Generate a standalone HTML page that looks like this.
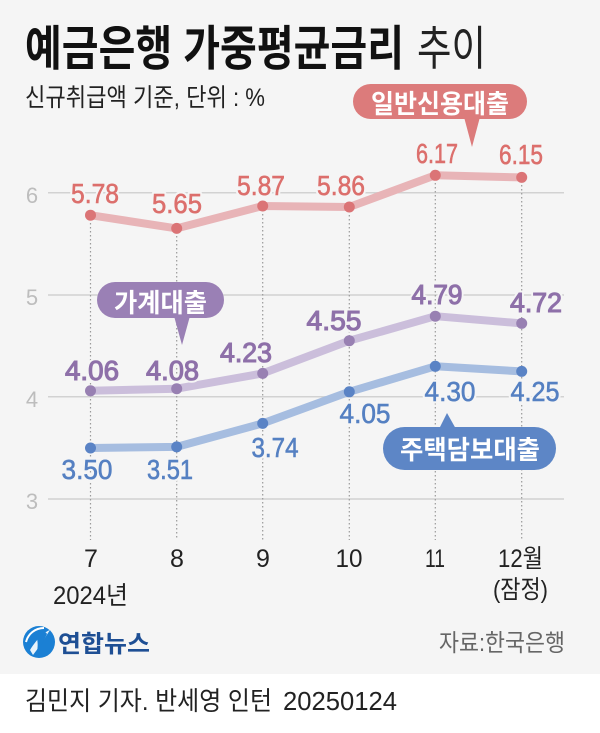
<!DOCTYPE html>
<html><head><meta charset="utf-8"><style>
html,body{margin:0;padding:0;background:#f5f5f5;}
svg{display:block;}
text{font-family:"Liberation Sans","Noto Sans CJK KR",sans-serif;}
</style></head><body>
<svg width="600" height="733" viewBox="0 0 600 733" xmlns="http://www.w3.org/2000/svg">
<rect x="0" y="0" width="600" height="674" fill="#f5f5f5"/>
<rect x="0" y="674" width="600" height="59" fill="#ffffff"/>

<!-- title -->
<text x="25" y="65" font-size="48" font-weight="bold" fill="#111" textLength="379" lengthAdjust="spacingAndGlyphs">예금은행 가중평균금리</text>
<text x="417" y="65" font-size="47" fill="#222" textLength="69" lengthAdjust="spacingAndGlyphs">추이</text>
<text x="25" y="106" font-size="25" fill="#222" textLength="240" lengthAdjust="spacingAndGlyphs">신규취급액 기준, 단위 : %</text>

<!-- gridlines -->
<g stroke="#d2d2d2" stroke-width="1.5">
<line x1="48" y1="192.7" x2="564" y2="192.7"/>
<line x1="48" y1="295" x2="564" y2="295"/>
<line x1="48" y1="396.7" x2="564" y2="396.7"/>
<line x1="48" y1="499" x2="564" y2="499"/>
</g>
<g font-size="22" fill="#bdbdbd" text-anchor="middle">
<text x="32" y="203">6</text>
<text x="32" y="305">5</text>
<text x="32" y="407">4</text>
<text x="32" y="509">3</text>
</g>

<!-- vertical dotted -->
<g stroke="#9a9a9a" stroke-width="1.2" stroke-dasharray="1.5 2.5">
<line x1="90.5" y1="215" x2="90.5" y2="540"/>
<line x1="176.7" y1="228" x2="176.7" y2="540"/>
<line x1="262.7" y1="206" x2="262.7" y2="540"/>
<line x1="349.3" y1="207" x2="349.3" y2="540"/>
<line x1="435.3" y1="175" x2="435.3" y2="540"/>
<line x1="521.7" y1="177" x2="521.7" y2="540"/>
</g>

<!-- series lines -->
<polyline fill="none" stroke="#e8b4b7" stroke-width="8" stroke-linejoin="round" points="90.5,215.2 176.7,228.4 262.7,206 349.3,207 435.3,175.3 521.7,177.4"/>
<polyline fill="none" stroke="#cbbedb" stroke-width="8" stroke-linejoin="round" points="90.5,390.8 176.7,388.7 262.7,373.4 349.3,340.7 435.3,316.2 521.7,323.4"/>
<polyline fill="none" stroke="#a6bde0" stroke-width="8" stroke-linejoin="round" points="90.5,448 176.7,446.9 262.7,423.4 349.3,391.8 435.3,366.3 521.7,371.4"/>

<g fill="#db7476">
<circle cx="90.5" cy="215.2" r="5.5"/><circle cx="176.7" cy="228.4" r="5.5"/><circle cx="262.7" cy="206" r="5.5"/>
<circle cx="349.3" cy="207" r="5.5"/><circle cx="435.3" cy="175.3" r="5.5"/><circle cx="521.7" cy="177.4" r="5.5"/>
</g>
<g fill="#9880b2">
<circle cx="90.5" cy="390.8" r="5.5"/><circle cx="176.7" cy="388.7" r="5.5"/><circle cx="262.7" cy="373.4" r="5.5"/>
<circle cx="349.3" cy="340.7" r="5.5"/><circle cx="435.3" cy="316.2" r="5.5"/><circle cx="521.7" cy="323.4" r="5.5"/>
</g>
<g fill="#5a83c5">
<circle cx="90.5" cy="448" r="5.5"/><circle cx="176.7" cy="446.9" r="5.5"/><circle cx="262.7" cy="423.4" r="5.5"/>
<circle cx="349.3" cy="391.8" r="5.5"/><circle cx="435.3" cy="366.3" r="5.5"/><circle cx="521.7" cy="371.4" r="5.5"/>
</g>

<!-- value labels: halo layer -->
<g font-size="27.5" text-anchor="middle" fill="#f5f5f5" stroke="#f5f5f5" stroke-width="5" stroke-linejoin="round">
<text x="95" y="203" textLength="48" lengthAdjust="spacingAndGlyphs">5.78</text>
<text x="177" y="213" textLength="50" lengthAdjust="spacingAndGlyphs">5.65</text>
<text x="261" y="195" textLength="48" lengthAdjust="spacingAndGlyphs">5.87</text>
<text x="341" y="195" textLength="48" lengthAdjust="spacingAndGlyphs">5.86</text>
<text x="437" y="163" textLength="42" lengthAdjust="spacingAndGlyphs">6.17</text>
<text x="521" y="164" textLength="44" lengthAdjust="spacingAndGlyphs">6.15</text>
<text x="92" y="380" textLength="54" lengthAdjust="spacingAndGlyphs">4.06</text>
<text x="172.5" y="380" textLength="53" lengthAdjust="spacingAndGlyphs">4.08</text>
<text x="246" y="362" textLength="52" lengthAdjust="spacingAndGlyphs">4.23</text>
<text x="334" y="330" textLength="55" lengthAdjust="spacingAndGlyphs">4.55</text>
<text x="437" y="304" textLength="51" lengthAdjust="spacingAndGlyphs">4.79</text>
<text x="536" y="312" textLength="52" lengthAdjust="spacingAndGlyphs">4.72</text>
<text x="87" y="479" textLength="51" lengthAdjust="spacingAndGlyphs">3.50</text>
<text x="170" y="479" textLength="46" lengthAdjust="spacingAndGlyphs">3.51</text>
<text x="275" y="457" textLength="47" lengthAdjust="spacingAndGlyphs">3.74</text>
<text x="365" y="423" textLength="51" lengthAdjust="spacingAndGlyphs">4.05</text>
<text x="450" y="401" textLength="51" lengthAdjust="spacingAndGlyphs">4.30</text>
<text x="535" y="401" textLength="49" lengthAdjust="spacingAndGlyphs">4.25</text>
</g>
<!-- value labels -->
<g font-size="27.5" text-anchor="middle">
<g fill="#dc6f6c" stroke="#dc6f6c" stroke-width="0.6">
<text x="95" y="203" textLength="48" lengthAdjust="spacingAndGlyphs">5.78</text>
<text x="177" y="213" textLength="50" lengthAdjust="spacingAndGlyphs">5.65</text>
<text x="261" y="195" textLength="48" lengthAdjust="spacingAndGlyphs">5.87</text>
<text x="341" y="195" textLength="48" lengthAdjust="spacingAndGlyphs">5.86</text>
<text x="437" y="163" textLength="42" lengthAdjust="spacingAndGlyphs">6.17</text>
<text x="521" y="164" textLength="44" lengthAdjust="spacingAndGlyphs">6.15</text>
</g>
<g fill="#8e70a9" stroke="#8e70a9" stroke-width="1.1">
<text x="92" y="380" textLength="54" lengthAdjust="spacingAndGlyphs">4.06</text>
<text x="172.5" y="380" textLength="53" lengthAdjust="spacingAndGlyphs">4.08</text>
<text x="246" y="362" textLength="52" lengthAdjust="spacingAndGlyphs">4.23</text>
<text x="334" y="330" textLength="55" lengthAdjust="spacingAndGlyphs">4.55</text>
<text x="437" y="304" textLength="51" lengthAdjust="spacingAndGlyphs">4.79</text>
<text x="536" y="312" textLength="52" lengthAdjust="spacingAndGlyphs">4.72</text>
</g>
<g fill="#5580c2" stroke="#5580c2" stroke-width="0.6">
<text x="87" y="479" textLength="51" lengthAdjust="spacingAndGlyphs">3.50</text>
<text x="170" y="479" textLength="46" lengthAdjust="spacingAndGlyphs">3.51</text>
<text x="275" y="457" textLength="47" lengthAdjust="spacingAndGlyphs">3.74</text>
<text x="365" y="423" textLength="51" lengthAdjust="spacingAndGlyphs">4.05</text>
<text x="450" y="401" textLength="51" lengthAdjust="spacingAndGlyphs">4.30</text>
<text x="535" y="401" textLength="49" lengthAdjust="spacingAndGlyphs">4.25</text>
</g>
</g>

<!-- bubbles -->
<g fill="#dc7b7b">
<rect x="353" y="84" width="174" height="35" rx="17.5"/>
<polygon points="464,117 480,117 472,147"/>
</g>
<text x="371" y="113" font-size="26" font-weight="bold" fill="#fff" textLength="138" lengthAdjust="spacingAndGlyphs">일반신용대출</text>

<g fill="#9a80b5">
<rect x="97" y="282" width="127" height="36" rx="18"/>
<polygon points="174,316 190,316 182,345"/>
</g>
<text x="114" y="312" font-size="26" font-weight="bold" fill="#fff" textLength="93" lengthAdjust="spacingAndGlyphs">가계대출</text>

<g fill="#5d86c6">
<rect x="383" y="427" width="173" height="43" rx="21.5"/>
<polygon points="439,429 456,429 447,413"/>
</g>
<text x="400" y="459" font-size="26" font-weight="bold" fill="#fff" textLength="140" lengthAdjust="spacingAndGlyphs">주택담보대출</text>

<!-- x labels -->
<g font-size="25" fill="#222" text-anchor="middle">
<text x="91" y="567">7</text>
<text x="177" y="567">8</text>
<text x="263" y="567">9</text>
<text x="349" y="567" textLength="27" lengthAdjust="spacingAndGlyphs">10</text>
<text x="435" y="567" textLength="20" lengthAdjust="spacingAndGlyphs">11</text>
<text x="520.5" y="567" textLength="45" lengthAdjust="spacingAndGlyphs">12월</text>
<text x="520.5" y="598" textLength="55" lengthAdjust="spacingAndGlyphs">(잠정)</text>
<text x="90.5" y="604" textLength="75" lengthAdjust="spacingAndGlyphs">2024년</text>
</g>

<!-- logo -->
<circle cx="39" cy="642" r="16" fill="#1b80d4"/>
<path d="M30,650 C36,640 44,632 50,630 C46,636 40,646 33,655 Z" fill="#fff" opacity="0.9"/>
<path d="M36,636 C40,632 46,631 47,634 C44,640 40,648 37,652 C38,646 38,640 36,636 Z" fill="#1b80d4"/>
<path d="M26,642 C28,634 35,628 44,628" fill="none" stroke="#fff" stroke-width="2"/>
<text x="58" y="652" font-size="24" font-weight="bold" fill="#1e4f94" textLength="92" lengthAdjust="spacingAndGlyphs">연합뉴스</text>

<text x="439" y="651" font-size="24" fill="#666" textLength="126" lengthAdjust="spacingAndGlyphs">자료:한국은행</text>

<!-- footer -->
<text x="25" y="710" font-size="26" fill="#222" textLength="247" lengthAdjust="spacingAndGlyphs">김민지 기자. 반세영 인턴</text>
<text x="283" y="710" font-size="26" fill="#222" textLength="114" lengthAdjust="spacingAndGlyphs">20250124</text>
</svg>
</body></html>
